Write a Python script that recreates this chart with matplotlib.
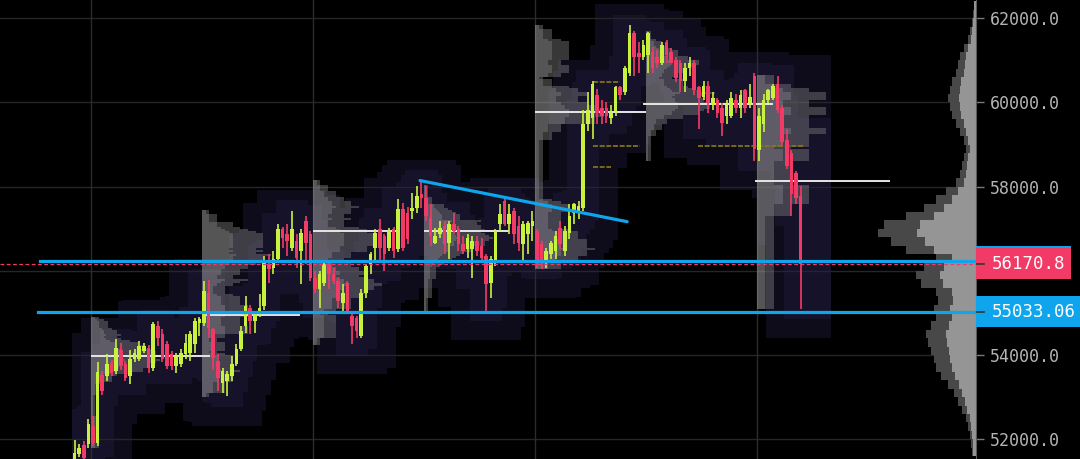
import numpy as np
import matplotlib
matplotlib.use("Agg")
import matplotlib.pyplot as plt
from matplotlib.patches import Rectangle

# ---- candle data (index 0 = first bar of the session on the first vertical gridline)
FIRST_INDEX = -4
opens = [51300, 51640, 51860, 51880, 52310, 51900, 53520, 53500, 53810, 53620,
         54120, 53790, 53500, 53900, 53900, 54100, 54170, 53690, 54690, 54500,
         54260, 54020, 53740, 53790, 54020, 54050, 54260, 54760, 54760, 55480,
         54620, 53860, 53330, 53380, 53500, 53790, 54140, 54690, 55120, 54810,
         54980, 55170, 56170, 56070, 56290, 57000, 56880, 56550, 56710, 56480,
         57190, 56880, 55830, 55570, 55710, 56170, 55930, 55760, 55240, 55710,
         54930, 54880, 54450, 55480, 56170, 56550, 57000, 56830, 56550, 57000,
         56520, 57480, 57380, 57430, 57500, 57830, 57740, 57260, 56670, 56880,
         57070, 56670, 57120, 57000, 56640, 56520, 56520, 56710, 56600, 56360,
         55710, 56240, 57120, 57670, 57120, 57430, 57070, 56640, 56880, 57070,
         56950, 56640, 56240, 56400, 56480, 57020, 56480, 56900, 57380, 57430,
         57500, 59500, 59640, 60170, 59860, 59880, 59620, 59790, 60360, 60240,
         60710, 61640, 61170, 61070, 61120, 61190, 61070, 60950, 61430, 61190,
         61000, 60930, 60520, 60830, 60950, 60360, 60120, 60400, 59930, 60050,
         59880, 59690, 59690, 60050, 59880, 60290, 59980, 60640, 58860, 59500,
         60050, 60100, 60450, 59860, 59100, 58810, 58330, 57790]
highs = [51980, 51880, 51950, 52470, 52550, 53830, 53620, 54020, 53880, 54380,
         54290, 53860, 54120, 54140, 54330, 54290, 54240, 54790, 54810, 54620,
         54330, 54100, 54050, 54140, 54500, 54570, 54880, 54900, 55760, 55790,
         54640, 54020, 53690, 53620, 53980, 54260, 54690, 55400, 55190, 55050,
         55450, 56360, 56400, 56480, 57120, 57050, 57120, 57430, 56880, 57000,
         57310, 56950, 56000, 56000, 56240, 56240, 56070, 55830, 55690, 55760,
         55000, 54930, 55570, 56170, 56450, 57000, 57240, 56880, 57020, 57050,
         57710, 57620, 57520, 57860, 58020, 58140, 58020, 57600, 57020, 57190,
         57190, 57190, 57380, 57070, 56830, 56880, 56830, 56830, 56790, 56400,
         56360, 57000, 57600, 57710, 57600, 57500, 57310, 57190, 57190, 57430,
         57000, 56710, 56550, 56710, 56950, 57190, 57070, 57600, 57620, 57670,
         59810, 60240, 60520, 60330, 60050, 60000, 59930, 60400, 60400, 60860,
         61830, 61710, 61430, 61480, 61670, 61310, 61240, 61430, 61480, 61290,
         61070, 61000, 60950, 61070, 61000, 60400, 60520, 60520, 60240, 60100,
         59980, 60050, 60240, 60210, 60290, 60330, 60450, 60690, 59860, 60210,
         60330, 60450, 60640, 59930, 59380, 58860, 58380, 58020]
lows = [51200, 51570, 51450, 51790, 51830, 51830, 53050, 53380, 53500, 53550,
        53640, 53380, 53310, 53830, 53860, 54050, 53570, 53620, 54210, 53830,
        53670, 53640, 53570, 53710, 53900, 53860, 54050, 54450, 54690, 54400,
        53640, 53140, 53100, 53020, 53380, 53740, 54100, 54520, 54500, 54520,
        54900, 55070, 55710, 55930, 56240, 56550, 56360, 56480, 56070, 55690,
        56170, 55760, 55480, 55120, 55640, 55570, 55690, 55120, 55050, 55000,
        54260, 54400, 54400, 55360, 55930, 56240, 56240, 56000, 56480, 56310,
        56450, 56480, 56640, 57240, 57380, 57500, 57190, 56600, 56640, 56790,
        56400, 56290, 56880, 56480, 56400, 56310, 55830, 56360, 56190, 55050,
        55360, 56120, 56950, 57070, 56880, 56640, 56480, 56240, 56400, 56710,
        56070, 56050, 56070, 56290, 56290, 56520, 56360, 56760, 57120, 57240,
        57430, 59330, 59140, 59500, 59500, 59520, 59500, 59690, 60050, 60170,
        60640, 60640, 60710, 61000, 60710, 60710, 60810, 60880, 60950, 60930,
        60480, 60240, 60240, 60640, 60170, 59380, 60050, 59740, 59810, 59620,
        59210, 59500, 59640, 59740, 59640, 59740, 59860, 58620, 58620, 59290,
        59980, 60050, 59740, 58980, 58430, 57310, 57600, 55100]
closes = [51670, 51790, 51550, 52360, 51900, 53600, 53140, 53790, 53570, 54170,
          53740, 53450, 53900, 54050, 54210, 54210, 53690, 54740, 54400, 53900,
          53740, 53740, 53980, 54050, 54290, 54500, 54810, 54860, 55520, 54640,
          53930, 53450, 53620, 53550, 53790, 54140, 54570, 55170, 54810, 54980,
          55120, 56240, 56050, 56290, 57000, 56790, 56710, 57000, 56310, 56900,
          56670, 55830, 55570, 55930, 56170, 55930, 55760, 55290, 55480, 55050,
          54690, 54570, 55480, 56120, 56400, 56900, 56550, 56400, 56950, 56480,
          57480, 56550, 56760, 57500, 57790, 57740, 57310, 56830, 56830, 57020,
          56640, 57120, 56950, 56640, 56480, 56790, 56710, 56480, 56310, 55690,
          56290, 56950, 57360, 57120, 57360, 56880, 56670, 57120, 57140, 57190,
          56240, 56240, 56480, 56670, 56830, 56640, 56950, 57310, 57600, 57550,
          59500, 59810, 60450, 59740, 59690, 59690, 59740, 60360, 60170, 60810,
          61640, 61070, 61070, 61360, 61640, 60810, 60950, 61360, 61120, 60950,
          60570, 60520, 60830, 60930, 60290, 60100, 60400, 59980, 60100, 59740,
          59520, 59930, 60100, 59860, 60170, 59880, 60120, 58900, 59690, 60050,
          60290, 60400, 59810, 59050, 58500, 57830, 57740, 56170.8]

# session boundaries (bar index of each session open)
session_starts = [0, 24, 48, 72, 96, 120, 144]
# point of control of each session: price, start index, end index
poc_prices = [53980, 54950, 56950, 56950, 59770, 59960, 58135]
poc_spans = [(0, 25.3), (24, 44.8), (48, 66), (72, 90), (96, 119.5), (119.5, 147), (143.6, 172.3)]

# composite volume profile (200-wide price bins, lower edges 51600 .. 62200)
comp_volume = [4, 5, 6, 8, 10, 14, 18, 22, 28, 35,
               40, 42, 45, 48, 50, 45, 40, 42, 38, 40,
               55, 60, 52, 40, 70, 85, 98, 92, 70, 52,
               40, 30, 20, 16, 14, 12, 10, 12, 16, 20,
               24, 26, 28, 26, 24, 20, 18, 16, 12, 8,
               6, 4, 3, 2]
COMP_BIN = 200
COMP_FIRST = 51600

# drawn levels
current_price = 56170.8
support_upper = 56234.0
support_lower = 55033.06
trend_x = [70.7, 115.5]
trend_y = [58145, 57168]
value_area_marks = [(58966, 108.1, 118.3), (58966, 130.8, 153.5),
                    (60487, 108.0, 114.0), (58467, 108.0, 112.0)]

grid_levels = [52000, 54000, 56000, 58000, 60000, 62000]
y_ticks = [52000, 54000, 58000, 60000, 62000]

# ---- colors
BG = "#000000"
UP = "#c9f23e"
DOWN = "#f23a66"
BLUE = "#0ea5ec"
GRID = "#262626"

W, H, DPI = 1080, 459, 100
AX_RIGHT_PX = 975.5
YTOP, YBOT = 62435, 51530
BAR_PX = 4.625
XLEFT = -93 / BAR_PX
XRIGHT = XLEFT + AX_RIGHT_PX / BAR_PX

fig = plt.figure(figsize=(W / DPI, H / DPI), dpi=DPI, facecolor=BG)
ax = fig.add_axes([0, 0, AX_RIGHT_PX / W, 1])
ax.set_facecolor(BG)
ax.set_xlim(XLEFT, XRIGHT)
ax.set_ylim(YBOT, YTOP)

o = np.array(opens, float)
h = np.array(highs, float)
l = np.array(lows, float)
c = np.array(closes, float)
n = len(o)
x = np.arange(n) + FIRST_INDEX

# liquidity heatmap columns behind the price (carried a few bars past the last candle)
hx = np.arange(n + 6) + FIRST_INDEX
heat_lo, heat_hi, inner_lo, inner_hi = [], [], [], []
for k in range(n + 6):
    kk = min(k, n - 1)
    heat_lo.append(l[max(0, kk - 7):kk + 8].min() - 700)
    heat_hi.append(h[max(0, kk - 7):kk + 8].max() + 500)
    inner_lo.append(l[max(0, kk - 3):kk + 4].min() - 250)
    inner_hi.append(h[max(0, kk - 3):kk + 4].max() + 250)
heat_lo, heat_hi = np.array(heat_lo), np.array(heat_hi)
inner_lo, inner_hi = np.array(inner_lo), np.array(inner_hi)
ax.bar(hx, heat_hi - heat_lo, bottom=heat_lo, width=1.0, color="#0e0b1a", zorder=1, linewidth=0)
ax.bar(hx, inner_hi - inner_lo, bottom=inner_lo, width=1.0, color="#161229", zorder=1.1, linewidth=0)

# gridlines
for yt in grid_levels:
    ax.axhline(yt, color=GRID, lw=1.0, zorder=1.5)
for xv in [0, 48, 96, 144]:
    ax.axvline(xv - 0.5, color="#2c2c2c", lw=1.0, zorder=1.5)

# session profiles (time at price)
bin_w = 50
edges = np.arange(51500, 62500 + bin_w, bin_w)
for k, s in enumerate(session_starts):
    sel = (x >= s) & (x < s + 24)
    counts = np.zeros(len(edges) - 1)
    for lo_v, hi_v in zip(l[sel], h[sel]):
        counts += (edges[:-1] < hi_v) & (edges[1:] > lo_v)
    if counts.max() == 0:
        continue
    widths = counts / counts.max() * 15.0
    ax.barh(edges[:-1], widths, height=bin_w, left=s - 0.5, align="edge",
            color="#8a8a8a", alpha=0.4, linewidth=0, zorder=2)
    ax.barh(edges[:-1], widths * 0.5, height=bin_w, left=s - 0.5, align="edge",
            color="#b0b0b0", alpha=0.25, linewidth=0, zorder=2.1)

# points of control
for p, (x0, x1) in zip(poc_prices, poc_spans):
    ax.plot([x0 - 0.5, x1], [p, p], color="#e6e6e6", lw=1.4, zorder=2.5, solid_capstyle="butt")

# value area marks
for p, x0, x1 in value_area_marks:
    ax.plot([x0, x1], [p, p], color="#8a7a12", lw=1.2, ls=(0, (3, 1)), zorder=2.6)

# composite profile anchored to the price scale
comp_levels = COMP_FIRST + COMP_BIN * np.arange(len(comp_volume))
comp_w = np.array(comp_volume, float) / BAR_PX
ax.barh(comp_levels, comp_w, height=COMP_BIN, left=XRIGHT - comp_w, align="edge",
        color="#484848", linewidth=0, zorder=2.2)
ax.barh(comp_levels, comp_w * 0.6, height=COMP_BIN, left=XRIGHT - comp_w * 0.6, align="edge",
        color="#959595", linewidth=0, zorder=2.3)

# candles
up = c >= o
cols = np.where(up, UP, DOWN)
ax.vlines(x, l, h, colors=cols, lw=1.2, zorder=4)
body_lo = np.minimum(o, c)
body_h = np.maximum(np.abs(c - o), 30)
ax.bar(x, body_h, bottom=body_lo, width=0.8, color=cols, linewidth=0, zorder=4.1)

# levels and trendline
ax.plot([XLEFT, XRIGHT], [current_price, current_price], color=DOWN, lw=0.9,
        ls=(0, (3, 2)), zorder=4.5)
ax.plot([-11.5, XRIGHT], [support_upper, support_upper], color=BLUE, lw=2.3, zorder=5)
ax.plot([-11.9, XRIGHT], [support_lower, support_lower], color=BLUE, lw=2.3, zorder=5)
ax.plot(trend_x, trend_y, color=BLUE, lw=2.3, zorder=5, solid_capstyle="round")

# price scale
ax.yaxis.tick_right()
ax.set_yticks(y_ticks)
ax.set_yticklabels([f"{v:.1f}" for v in y_ticks])
ax.tick_params(axis="y", colors="#7a7a7a", length=5.5, width=1.0, pad=5,
               labelsize=12, labelcolor="#b4b4b4")
for lab in ax.get_yticklabels():
    lab.set_family("DejaVu Sans Mono")
ax.set_xticks([])
for side in ["top", "left", "bottom"]:
    ax.spines[side].set_visible(False)
ax.spines["right"].set_color("#5a5a5a")
ax.spines["right"].set_linewidth(0.8)

# price labels on the scale
ov = fig.add_axes([0, 0, 1, 1], facecolor="none")
ov.set_xlim(0, W)
ov.set_ylim(H, 0)
ov.axis("off")


def ypx(p):
    return (YTOP - p) / (YTOP - YBOT) * H


def price_tag(p, text, color, x1, zo):
    yc = ypx(p)
    ov.add_patch(Rectangle((AX_RIGHT_PX + 0.5, yc - 15.5), x1 - AX_RIGHT_PX, 31,
                           facecolor=color, edgecolor="none", zorder=zo))
    if text:
        ov.text(992, yc + 0.5, text, color="white", fontsize=12.5, va="center", ha="left",
                family="DejaVu Sans Mono", zorder=zo + 0.1)
    ov.plot([977, 984], [ypx(p), ypx(p)], color="#333333", lw=1.2, zorder=zo + 0.2)


price_tag(support_upper, "", BLUE, 1070, 10)
price_tag(current_price, f"{current_price:.1f}", DOWN, 1070, 11)
price_tag(support_lower, f"{support_lower:.2f}", BLUE, 1080, 12)

fig.savefig("out.png", dpi=DPI, facecolor=BG)
